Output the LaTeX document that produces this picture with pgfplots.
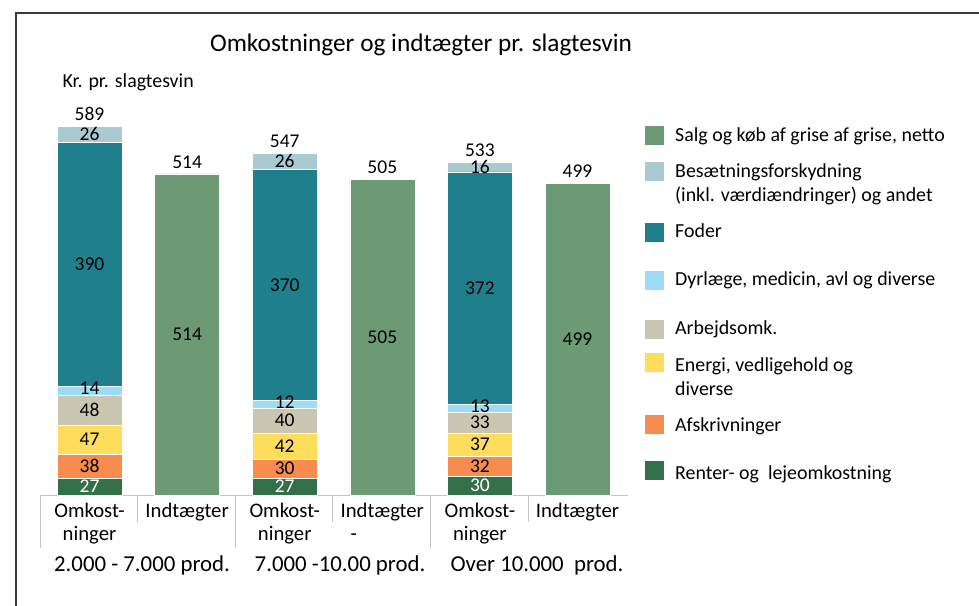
\documentclass[border=0pt]{standalone}
\usepackage{fontspec}
\setmainfont{Carlito}
\usepackage{pgfplots}
\usepackage{pgfplotstable}
\pgfplotsset{compat=1.18}
\definecolor{salg}{HTML}{6B9A74}
\definecolor{besaet}{HTML}{A9CAD0}
\definecolor{foder}{HTML}{1F7F8C}
\definecolor{dyr}{HTML}{9CDCF5}
\definecolor{arbejd}{HTML}{C9C6B2}
\definecolor{energi}{HTML}{FFDD5C}
\definecolor{afskr}{HTML}{F78C4F}
\definecolor{renter}{HTML}{33704A}
\definecolor{frame}{HTML}{3A3A3A}
\definecolor{gridc}{HTML}{C4C4C4}
\newcommand\numfont{\fontsize{19.5}{22}\selectfont}
\newcommand\tickfont{\fontsize{20.7}{24}\selectfont}
\newcommand\legfont{\fontsize{19.9}{24}\selectfont}
\pgfplotstableread{
x renter afskr energi arbejd dyr foder besaet total
0 27 38 47 48 14 390 26 589
2 27 30 42 40 12 370 26 547
4 30 32 37 33 13 372 16 533
}\costs
\pgfplotstableread{
x salg
1 514
3 505
5 499
}\income
\pgfplotsset{
  base/.style={at={(40.7pt,110pt)}, anchor=south west, x=97.6pt, y=0.6248pt,
    xmin=-0.5, xmax=5.5, ymin=0, ymax=600, hide axis, clip=false, bar width=65pt},
  lab/.style={draw=none, mark=none, nodes near coords, point meta=explicit symbolic,
    every node near coord/.append style={anchor=center, font=\numfont, inner sep=0pt,
      text height=12.2pt, text depth=0pt, text=#1}},
  toplab/.style={draw=none, mark=none, nodes near coords, point meta=explicit symbolic,
    every node near coord/.append style={anchor=south, font=\numfont, inner sep=0pt,
      text height=12.2pt, text depth=0pt, yshift=5.5pt}},
}
\begin{document}
\begin{tikzpicture}[x=1pt,y=1pt]
\useasboundingbox (0,0) rectangle (979,605);
\draw[line width=2pt, frame] (16,-2) -- (16,592) -- (981,592);
\node[anchor=base, font=\fontsize{25.3}{28}\selectfont] at (421,553) {Omkostninger og indtægter pr. slagtesvin};
\node[anchor=base west, font=\fontsize{19.9}{22}\selectfont] at (59,517) {Kr. pr. slagtesvin};
% table lines under the bars
\draw[gridc, line width=1pt] (40,110) -- (628,110);
\foreach \xx in {40,235,430} \draw[gridc, line width=1pt] (\xx,110) -- (\xx,57);
\foreach \xx in {137,332,528} \draw[gridc, line width=1pt] (\xx,110) -- (\xx,83);
% stacked cost bars
\begin{axis}[base, ybar stacked]
\addplot[fill=renter, draw=white, line width=0.5pt] table[x=x,y=renter]{\costs};
\addplot[fill=afskr, draw=white, line width=0.5pt] table[x=x,y=afskr]{\costs};
\addplot[fill=energi, draw=white, line width=0.5pt] table[x=x,y=energi]{\costs};
\addplot[fill=arbejd, draw=white, line width=0.5pt] table[x=x,y=arbejd]{\costs};
\addplot[fill=dyr, draw=white, line width=0.5pt] table[x=x,y=dyr]{\costs};
\addplot[fill=foder, draw=white, line width=0.5pt] table[x=x,y=foder]{\costs};
\addplot[fill=besaet, draw=white, line width=0.5pt] table[x=x,y=besaet]{\costs};
\end{axis}
% income bars
\begin{axis}[base, ybar, bar shift=0pt]
\addplot[fill=salg, draw=white, line width=0.5pt] table[x=x,y=salg]{\income};
\end{axis}
% value labels, centred in each segment
\begin{axis}[base]
\addplot[lab=white] table[x=x, y expr=\thisrow{renter}/2, meta=renter]{\costs};
\addplot[lab=black] table[x=x, y expr=\thisrow{renter}+\thisrow{afskr}/2, meta=afskr]{\costs};
\addplot[lab=black] table[x=x, y expr=\thisrow{renter}+\thisrow{afskr}+\thisrow{energi}/2, meta=energi]{\costs};
\addplot[lab=black] table[x=x, y expr=\thisrow{renter}+\thisrow{afskr}+\thisrow{energi}+\thisrow{arbejd}/2, meta=arbejd]{\costs};
\addplot[lab=black, every node near coord/.append style={yshift=2.5pt}] table[x=x, y expr=\thisrow{renter}+\thisrow{afskr}+\thisrow{energi}+\thisrow{arbejd}+\thisrow{dyr}/2, meta=dyr]{\costs};
\addplot[lab=black] table[x=x, y expr=\thisrow{renter}+\thisrow{afskr}+\thisrow{energi}+\thisrow{arbejd}+\thisrow{dyr}+\thisrow{foder}/2, meta=foder]{\costs};
\addplot[lab=black] table[x=x, y expr=\thisrow{renter}+\thisrow{afskr}+\thisrow{energi}+\thisrow{arbejd}+\thisrow{dyr}+\thisrow{foder}+\thisrow{besaet}/2, meta=besaet]{\costs};
\addplot[toplab] table[x=x, y expr=\thisrow{renter}+\thisrow{afskr}+\thisrow{energi}+\thisrow{arbejd}+\thisrow{dyr}+\thisrow{foder}+\thisrow{besaet}, meta=total]{\costs};
\addplot[lab=black] table[x=x, y expr=\thisrow{salg}/2, meta=salg]{\income};
\addplot[toplab] table[x=x, y=salg, meta=salg]{\income};
\end{axis}
% category labels
\foreach \cx in {89.5,284.7,479.9} {
  \node[anchor=base, font=\tickfont] at (\cx,88) {Omkost-};
  \node[anchor=base, font=\tickfont] at (\cx,65) {ninger};
}
\foreach \cx in {187.1,382.3,577.5} \node[anchor=base, font=\tickfont] at (\cx,88) {Indtægter};
\node[anchor=base west, font=\tickfont] at (347,65) {-};
\node[anchor=base, font=\fontsize{22.8}{26}\selectfont] at (142,34) {2.000 - 7.000 prod.};
\node[anchor=base, font=\fontsize{22.8}{26}\selectfont] at (340,34) {7.000 -10.00 prod.};
\node[anchor=base, font=\fontsize{22.8}{26}\selectfont] at (537,34) {Over 10.000\ \ prod.};
% legend
\foreach \top/\col in {126/salg,162/besaet,223/foder,271/dyr,320/arbejd,353/energi,415/afskr,461/renter}
  \fill[\col] (645,605-\top) rectangle (664,605-\top-19);
\foreach \bl/\txt in {142/{Salg og køb af grise af grise, netto},178/{Besætningsforskydning},202/{(inkl. værdiændringer) og andet},238/{Foder},286/{Dyrlæge, medicin, avl og diverse},335/{Arbejdsomk.},372/{Energi, vedligehold og},396/{diverse},432/{Afskrivninger},480/{Renter- og\ \ lejeomkostning}}
  \node[anchor=base west, font=\legfont, inner sep=0pt] at (675,605-\bl) {\txt};
\end{tikzpicture}
\end{document}
